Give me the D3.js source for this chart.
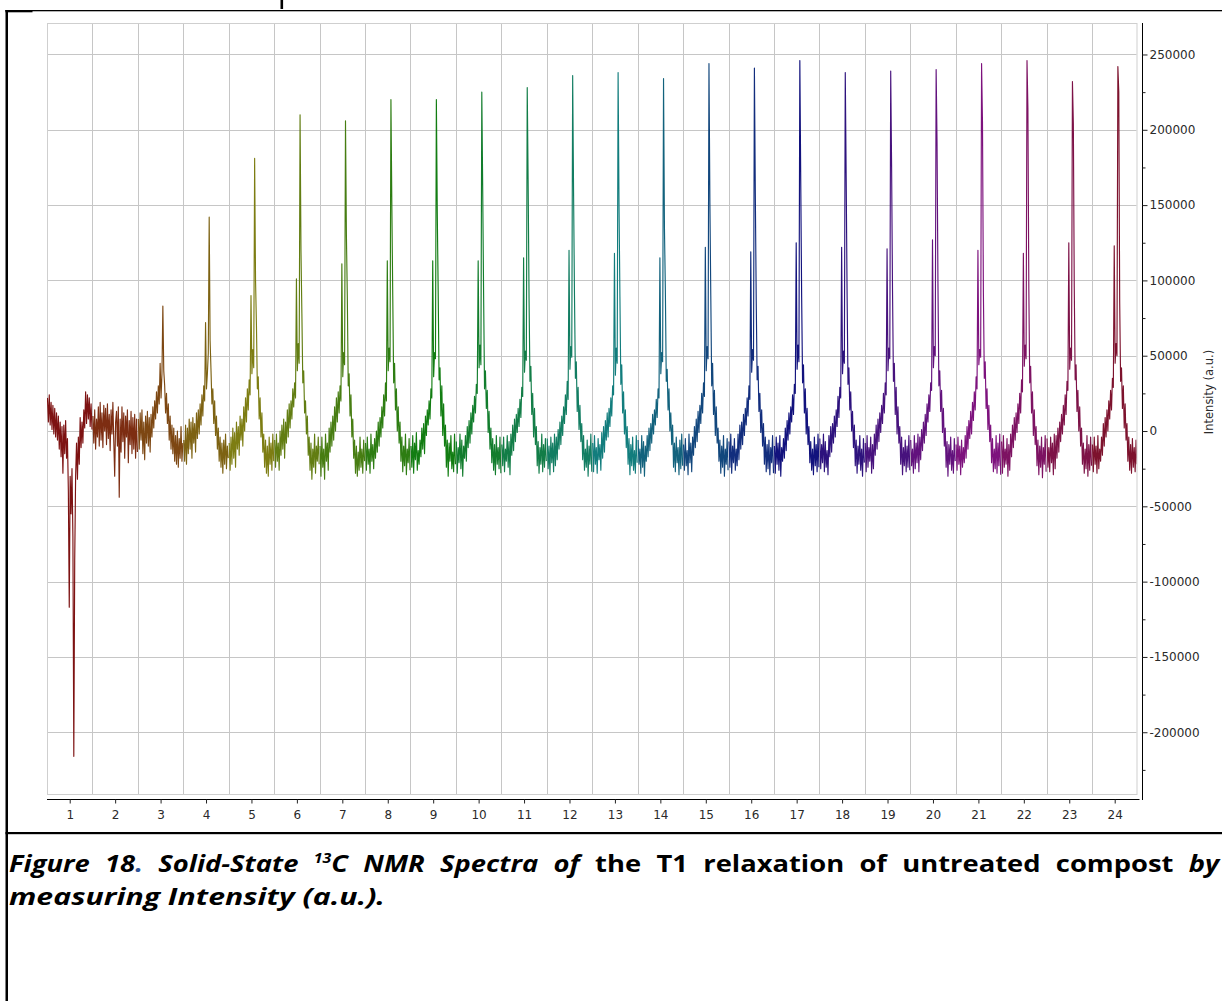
<!DOCTYPE html>
<html>
<head>
<meta charset="utf-8">
<script src="https://cdn.jsdelivr.net/npm/d3@7"></script>
<style>
  html, body { margin: 0; padding: 0; background: #fff; overflow: hidden; }
  svg { display: block; }
</style>
</head>
<body>
<svg id="chart" width="1222" height="1001"></svg>
<script>
// spectrum number shown on the x axis
var xTicks = [1, 2, 3, 4, 5, 6, 7, 8, 9, 10, 11, 12, 13, 14, 15, 16, 17, 18, 19, 20, 21, 22, 23, 24];
var xGrid = [1.5, 2.5, 3.5, 4.5, 5.5, 6.5, 7.5, 8.5, 9.5, 10.5, 11.5, 12.5, 13.5, 14.5, 15.5, 16.5, 17.5, 18.5, 19.5, 20.5, 21.5, 22.5, 23.5];
var yTicks = [-200000, -150000, -100000, -50000, 0, 50000, 100000, 150000, 200000, 250000];
var yMinorTicks = [-225000, -175000, -125000, -75000, -25000, 25000, 75000, 125000, 175000, 225000];

// intensity of each spectrum, in thousands (a.u.), 50 samples across its slot
var spec1 = [22, 6, 24, 4, 19, 1, 17, -2, 15, -4, 12, -6, 10, -12, 6, -17, 3, -28, 4, -15, 7, -18, -5, -40, -117, -30, -55, -25, -70, -216, -86, -30, -8, -32, -4, -22, 9, -11, 6, -8, 14, 2, 26, 5, 24, 8, 22, 3, 18, 1];
var spec2 = [10, -8, 14, -12, 8, -4, 16, -10, 19, -6, 12, -11, 17, 0, 15, -9, 18, -5, 11, -13, 14, -2, 19, -7, -30, 6, 13, -10, 16, -44, 8, -14, 16, -7, 12, -18, 10, -4, 14, -21, 7, -9, 13, -15, 9, -12, 11, -18, 8, -14];
var spec3 = [8, -12, 12, -6, 14, -15, 6, -19, 10, -8, 13, -10, 9, -14, 11, -4, 16, 2, 20, 8, 26, 12, 30, 18, 45, 22, 38, 83, 40, 30, 12, 25, 5, 18, -6, 10, -12, 4, -15, 2, -20, -3, -22, 0, -24, -5, -18, 3, -20, -8];
var spec4 = [-6, -20, 4, -22, 2, -15, 8, -12, 6, -18, 9, -8, 5, -14, 12, -5, 14, -2, 18, 4, 24, 10, 30, 20, 72, 28, 38, 52, 142, 60, 40, 18, 28, 5, 20, -3, 10, -12, 2, -20, -4, -24, -8, -28, -6, -22, -2, -25, -10, -18];
var spec5 = [-8, -26, -4, -22, 2, -18, -1, -24, 6, -12, 3, -16, 10, -6, 8, -10, 16, 0, 22, 6, 28, 14, 34, 24, 90, 38, 54, 42, 181, 100, 70, 28, 36, 8, 22, -4, 12, -14, -2, -24, -6, -28, -10, -30, -4, -22, -8, -26, -2, -20];
var spec6 = [-6, -24, -2, -20, -8, -26, 0, -16, 4, -12, 8, -18, 6, -8, 14, -4, 18, 2, 20, 8, 28, 16, 32, 22, 101, 40, 58, 45, 210, 120, 78, 32, 40, 12, 20, -2, 10, -16, -4, -26, -8, -32, -12, -24, -2, -28, -10, -20, -4, -22];
var spec7 = [-10, -30, -4, -24, -12, -32, -2, -20, -8, -26, 2, -14, 6, -10, 10, -6, 16, 0, 22, 6, 26, 12, 30, 20, 111, 36, 52, 44, 206, 130, 89, 30, 38, 10, 24, -4, 8, -18, -6, -28, -10, -30, -14, -26, -4, -24, -12, -28, -6, -20];
var spec8 = [-8, -26, -4, -22, -12, -28, -2, -20, -9, -25, -5, -18, 0, -14, 6, -10, 9, -4, 16, 2, 24, 10, 32, 20, 113, 40, 55, 46, 220, 150, 90, 32, 45, 14, 28, 0, 16, -8, 6, -20, -4, -27, -10, -23, -2, -29, -12, -21, -5, -26];
var spec9 = [-10, -24, -3, -28, -8, -19, -1, -26, -13, -22, -6, -17, 2, -12, 5, -15, 10, -3, 14, 4, 20, 8, 28, 22, 113, 36, 52, 48, 220, 145, 92, 34, 42, 10, 30, -3, 18, -10, 4, -24, -6, -30, -8, -20, -3, -25, -14, -27, -2, -22];
var spec10 = [-7, -28, -11, -21, -2, -25, -6, -30, -10, -18, -3, -20, 3, -11, 7, -8, 12, -2, 17, 6, 23, 12, 31, 25, 113, 42, 57, 44, 225, 160, 90, 28, 40, 15, 27, -1, 13, -12, 2, -21, -5, -26, -9, -29, -3, -22, -11, -25, -4, -28];
var spec11 = [-9, -23, -4, -27, -12, -20, -3, -24, -7, -29, -2, -16, 4, -13, 8, -7, 11, -1, 15, 3, 21, 9, 29, 23, 115, 39, 53, 47, 228, 165, 88, 33, 43, 11, 25, -4, 15, -9, 3, -23, -7, -28, -11, -22, -2, -27, -9, -24, -5, -20];
var spec12 = [-5, -25, -10, -29, -4, -21, -8, -27, -2, -23, -4, -19, 1, -12, 6, -9, 10, -3, 16, 5, 24, 11, 33, 21, 120, 41, 56, 49, 236, 158, 90, 35, 46, 13, 29, 1, 17, -7, 5, -19, -3, -26, -12, -24, -6, -30, -10, -22, -2, -27];
var spec13 = [-8, -27, -3, -22, -11, -28, -5, -19, -9, -26, -1, -18, 3, -14, 7, -6, 12, -4, 15, 3, 22, 10, 30, 24, 118, 37, 55, 45, 238, 151, 89, 31, 44, 12, 26, -2, 14, -11, 3, -22, -5, -29, -9, -23, -4, -26, -13, -28, -3, -21];
var spec14 = [-6, -22, -12, -28, -3, -24, -7, -30, -10, -20, -3, -17, 2, -13, 5, -8, 11, -2, 14, 4, 21, 9, 28, 22, 115, 38, 52, 46, 234, 135, 94, 33, 41, 14, 28, 0, 12, -9, 4, -24, -8, -27, -4, -21, -11, -29, -6, -25, -2, -23];
var spec15 = [-9, -26, -5, -23, -13, -29, -2, -21, -8, -27, -4, -16, 3, -11, 8, -7, 13, -1, 17, 5, 25, 12, 32, 23, 122, 40, 56, 48, 244, 153, 90, 30, 45, 11, 27, -3, 16, -8, 2, -20, -6, -28, -10, -24, -3, -30, -12, -22, -5, -26];
var spec16 = [-7, -24, -2, -28, -10, -21, -5, -26, -12, -23, -2, -19, 4, -12, 6, -9, 11, -3, 15, 4, 22, 10, 30, 21, 119, 39, 54, 47, 241, 158, 87, 34, 43, 13, 25, -1, 14, -10, 5, -22, -4, -27, -9, -25, -6, -29, -11, -21, -3, -28];
var spec17 = [-10, -28, -4, -22, -8, -26, -3, -30, -11, -20, -5, -18, 2, -13, 7, -6, 12, -2, 16, 6, 24, 11, 31, 25, 125, 41, 57, 46, 246, 166, 89, 32, 44, 12, 28, -2, 15, -9, 3, -21, -7, -26, -12, -29, -4, -23, -9, -27, -2, -24];
var spec18 = [-5, -25, -9, -21, -2, -27, -7, -24, -13, -29, -3, -17, 3, -14, 5, -8, 10, -4, 14, 3, 23, 9, 29, 22, 122, 38, 53, 45, 238, 168, 91, 31, 42, 14, 26, 0, 13, -11, 4, -23, -6, -28, -10, -22, -3, -26, -12, -30, -5, -21];
var spec19 = [-8, -27, -3, -24, -11, -20, -4, -28, -9, -25, -2, -16, 4, -12, 8, -7, 12, -1, 17, 5, 25, 12, 32, 24, 121, 40, 55, 48, 239, 175, 93, 33, 45, 11, 29, -2, 16, -8, 3, -22, -4, -29, -11, -23, -6, -27, -10, -24, -3, -26];
var spec20 = [-6, -23, -12, -28, -3, -25, -8, -21, -2, -27, -4, -19, 1, -13, 6, -8, 11, -3, 18, 6, 24, 13, 32, 27, 127, 42, 56, 50, 240, 191, 98, 30, 40, 13, 27, -1, 15, -10, 2, -24, -7, -30, -9, -22, -4, -26, -13, -28, -5, -20];
var spec21 = [-9, -26, -4, -22, -10, -29, -6, -24, -11, -21, -3, -18, 3, -12, 7, -5, 13, -2, 19, 7, 26, 14, 36, 28, 120, 44, 54, 49, 244, 205, 92, 35, 46, 15, 28, 1, 17, -7, 4, -21, -5, -27, -12, -25, -3, -28, -8, -23, -2, -29];
var spec22 = [-7, -28, -3, -24, -12, -22, -5, -30, -9, -26, -2, -17, 4, -11, 9, -6, 12, -1, 18, 5, 25, 12, 34, 26, 118, 43, 57, 48, 246, 214, 95, 32, 43, 12, 26, -3, 14, -9, 3, -23, -6, -29, -10, -24, -4, -31, -11, -22, -3, -27];
var spec23 = [-5, -24, -11, -27, -4, -21, -8, -29, -2, -25, -3, -18, 2, -14, 6, -7, 11, -2, 17, 4, 24, 11, 33, 27, 125, 41, 55, 47, 232, 204, 96, 34, 44, 13, 27, 0, 16, -10, 2, -22, -8, -28, -12, -25, -3, -30, -9, -26, -4, -23];
var spec24 = [-9, -27, -4, -22, -10, -28, -3, -25, -12, -20, -4, -16, 5, -10, 9, -4, 14, 0, 20, 8, 27, 14, 35, 29, 123, 45, 58, 50, 242, 225, 86, 33, 42, 15, 30, 2, 18, -6, 5, -20, -4, -26, -9, -28, -5, -24, -11, -27, -6, -22];

var spectra = [spec1, spec2, spec3, spec4, spec5, spec6, spec7, spec8, spec9, spec10, spec11, spec12,
  spec13, spec14, spec15, spec16, spec17, spec18, spec19, spec20, spec21, spec22, spec23, spec24];

var svg = d3.select('#chart');

var plot = {left: 47, right: 1136.5, top: 23, bottom: 794};

var x = d3.scaleLinear().domain([0.5, 24.48]).range([plot.left, plot.right]);
var y = d3.scaleLinear().domain([-241000, 270900]).range([plot.bottom, plot.top]);

// grid
var grid = svg.append('g').attr('class', 'grid');
grid.selectAll('.vgrid').data(xGrid).enter().append('line')
  .attr('x1', function(d) { return Math.round(x(d)) + 0.5; })
  .attr('x2', function(d) { return Math.round(x(d)) + 0.5; })
  .attr('y1', plot.top).attr('y2', plot.bottom)
  .attr('stroke', '#c6c6c6').attr('stroke-width', 1);
grid.selectAll('.hgrid').data(yTicks).enter().append('line')
  .attr('x1', plot.left).attr('x2', plot.right)
  .attr('y1', function(d) { return Math.round(y(d)) + 0.5; })
  .attr('y2', function(d) { return Math.round(y(d)) + 0.5; })
  .attr('stroke', '#c6c6c6').attr('stroke-width', 1);
grid.append('rect')
  .attr('x', plot.left + 0.5).attr('y', plot.top + 0.5)
  .attr('width', plot.right - plot.left).attr('height', plot.bottom - plot.top)
  .attr('fill', 'none').attr('stroke', '#cfcfcf');

// spectra
svg.append('clipPath').attr('id', 'plotclip').append('rect')
  .attr('x', plot.left).attr('y', plot.top)
  .attr('width', plot.right - plot.left).attr('height', plot.bottom - plot.top);

var n = 50;
var line = d3.line()
  .x(function(d) { return x(d.pos); })
  .y(function(d) { return y(d.val * 1000); });

svg.append('g').attr('clip-path', 'url(#plotclip)')
  .selectAll('path').data(spectra).enter().append('path')
  .attr('d', function(vals, i) {
    var id = xTicks[i];
    return line(vals.map(function(v, j) {
      return {pos: id - 0.5 + (j + 0.5) / n, val: v};
    }));
  })
  .attr('fill', 'none')
  .attr('stroke', function(d, i) { return d3.hsl(i * 15, 0.75, 0.28).toString(); })
  .attr('stroke-width', 1.15)
  .attr('stroke-linejoin', 'round');

// axes
var tickFont = '"DejaVu Sans", Verdana, sans-serif';
var plainNum = function(d) { return String(d); };

var xAxis = d3.axisBottom(x).tickValues(xTicks).tickFormat(plainNum)
  .tickSize(4).tickSizeOuter(0).tickPadding(7);
var gx = svg.append('g').attr('transform', 'translate(0,' + 799.5 + ')').call(xAxis);
gx.select('.domain').attr('d', 'M' + plot.left + ',0H' + (plot.right + 3));

var yAxis = d3.axisRight(y).tickValues(yTicks).tickFormat(plainNum)
  .tickSize(5).tickSizeOuter(0).tickPadding(2);
var gy = svg.append('g').attr('transform', 'translate(' + 1142.5 + ',0)').call(yAxis);
gy.select('.domain').attr('d', 'M0,' + plot.top + 'V' + (plot.bottom + 6));

var yMinor = d3.axisRight(y).tickValues(yMinorTicks).tickFormat('').tickSize(3).tickSizeOuter(0);
var gym = svg.append('g').attr('transform', 'translate(' + 1142.5 + ',0)').call(yMinor);
gym.select('.domain').remove();

svg.selectAll('.tick line').attr('stroke', '#222');
svg.selectAll('.domain').attr('stroke', '#000');
svg.selectAll('.tick text')
  .attr('font-family', tickFont).attr('font-size', 12).attr('fill', '#2a2a2a');

svg.append('text')
  .attr('transform', 'translate(1213,392) rotate(-90)')
  .attr('text-anchor', 'middle')
  .attr('font-family', tickFont).attr('font-size', 11.5).attr('fill', '#2a2a2a')
  .text('Intensity (a.u.)');

// page frame
svg.append('rect').attr('x', 5.5).attr('y', 10).attr('width', 2.5).attr('height', 991).attr('fill', '#000');
svg.append('rect').attr('x', 5.5).attr('y', 10).attr('width', 1216.5).attr('height', 1.3).attr('fill', '#000');
svg.append('rect').attr('x', 5.5).attr('y', 10).attr('width', 27).attr('height', 2.3).attr('fill', '#000');
svg.append('rect').attr('x', 5.5).attr('y', 832).attr('width', 1216.5).attr('height', 2.2).attr('fill', '#000');

// stroke left over from the page text above the figure
svg.append('rect').attr('x', 280.5).attr('y', 0).attr('width', 2.6).attr('height', 9).attr('fill', '#000');

// caption: first line justified to the page width, second line left aligned
var capFont = '"Open Sans", "Noto Sans", sans-serif';
var capSize = 24;
var stretch1 = 1.14;
var stretch2 = 1.26;

var capG1 = svg.append('g').attr('transform', 'translate(9,0) scale(' + stretch1 + ',1)');
var cap1 = capG1.append('text').attr('x', 0).attr('y', 872)
  .attr('font-family', capFont).attr('font-size', capSize).attr('font-weight', 700).attr('fill', '#000');
var parts = [
  {t: 'Figure 18', it: true},
  {t: '.', it: true, c: '#2f5597'},
  {t: ' Solid-State ', it: true},
  {t: '13', it: true, sup: true},
  {t: 'C NMR Spectra of', it: true, down: true},
  {t: ' the T1 relaxation of untreated compost ', it: false},
  {t: 'by', it: true}
];
parts.forEach(function(p) {
  var ts = cap1.append('tspan').text(p.t)
    .attr('font-style', p.it ? 'italic' : 'normal');
  if (p.c) ts.attr('fill', p.c);
  if (p.sup) ts.attr('font-size', capSize * 0.58).attr('dy', -9);
  if (p.down) ts.attr('dy', 9);
});
var natural = cap1.node().getComputedTextLength();
var spaces = 12;
var target = (1211 - 9) / stretch1;
cap1.attr('word-spacing', Math.max(0, (target - natural) / spaces));

var capG2 = svg.append('g').attr('transform', 'translate(9,0) scale(' + stretch2 + ',1)');
capG2.append('text').attr('x', 0).attr('y', 905)
  .attr('font-family', capFont).attr('font-size', capSize).attr('font-weight', 700)
  .attr('font-style', 'italic').attr('fill', '#000')
  .text('measuring Intensity (a.u.).');
</script>
</body>
</html>
